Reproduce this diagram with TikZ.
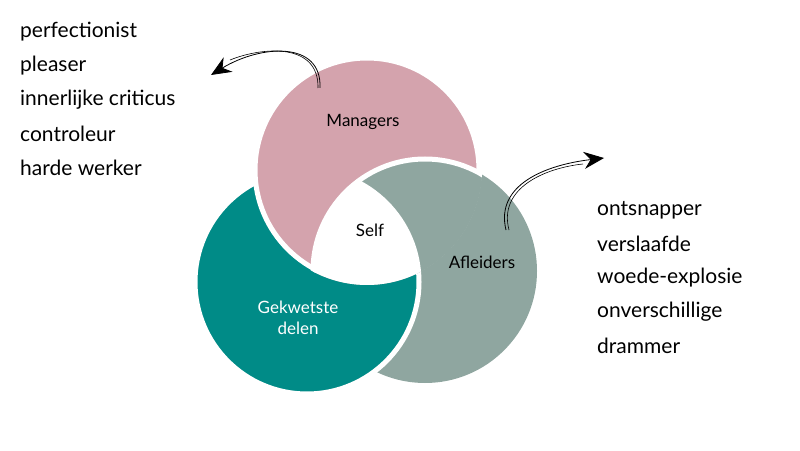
\documentclass[tikz,border=0pt]{standalone}
\usepackage{fontspec}
\setmainfont{Lato}
\usetikzlibrary{arrows.meta}
\definecolor{managerpink}{HTML}{D4A3AD}
\definecolor{woundteal}{HTML}{008B87}
\definecolor{distractgrey}{HTML}{8FA6A0}

\begin{document}
\begin{tikzpicture}[x=1pt,y=1pt,
  listtext/.style={anchor=west,font=\fontsize{21}{21}\selectfont,inner sep=0pt},
  parttext/.style={font=\fontsize{17}{21}\selectfont,align=center},
  partdisc/.style={draw=white,line width=5pt},
  sketcharrow/.style={line width=0.8pt,-{Stealth[length=20pt,width=17pt]}}]
\useasboundingbox (0,0) rectangle (800,450);
% Drawing the three parts in a swirl
\def\rad{112}
\coordinate (pc) at (367,280);
\coordinate (tc) at (307,168);
\coordinate (gc) at (425,179);
\fill[distractgrey] (gc) circle(\rad);
\filldraw[partdisc,fill=woundteal] (tc) circle(\rad);
\filldraw[partdisc,fill=managerpink] (pc) circle(\rad);
\begin{scope}
\clip (pc) circle(\rad+3);
\filldraw[partdisc,fill=distractgrey] (gc) circle(\rad);
\clip (gc) circle(\rad);
\filldraw[partdisc,fill=white] (tc) circle(\rad);
\end{scope}
% Labels of the parts
\node[parttext] (managers) at (363,328) {Managers};
\node[parttext] (self) at (370,220) {Self};
\node[parttext] (afleiders) at (482,188) {Afleiders};
\node[parttext,text=white] (gekwetst) at (298,132) {Gekwetste\\delen};
% Lists
\node[listtext] (l1) at (20,418) {perfectionist};
\node[listtext] (l2) at (20,384) {pleaser};
\node[listtext] (l3) at (20,350) {innerlijke criticus};
\node[listtext] (l4) at (20,316) {controleur};
\node[listtext] (l5) at (20,282) {harde werker};
\node[listtext] (r1) at (597,240) {ontsnapper};
\node[listtext] (r2) at (597,206) {verslaafde};
\node[listtext] (r3) at (597,172) {woede-explosie};
\node[listtext] (r4) at (597,138) {onverschillige};
\node[listtext] (r5) at (597,104) {drammer};
% Sketchy arrows
\coordinate (mstart) at (320,362);
\coordinate (mend) at (211,375);
\coordinate (astart) at (506,220);
\coordinate (aend) at (604,292);
\draw[sketcharrow] (mstart) .. controls (322,410) and (260,405) .. (mend);
\draw[line width=0.6pt] ([xshift=-2pt]mstart) .. controls (319,408) and (262,403) .. (230,390);
\draw[sketcharrow] (astart) .. controls (495,265) and (545,285) .. (aend);
\draw[line width=0.6pt] ([xshift=3pt]astart) .. controls (498,262) and (545,282) .. (583,286);
\end{tikzpicture}
\end{document}
